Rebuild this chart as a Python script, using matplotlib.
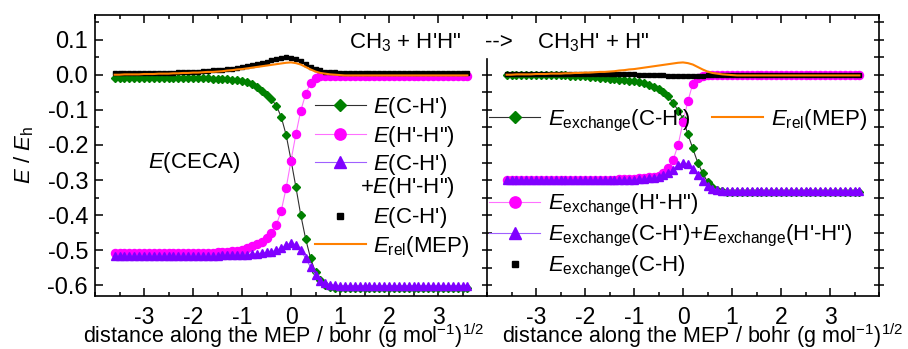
import matplotlib
matplotlib.use('Agg')
import matplotlib.pyplot as plt
from matplotlib.lines import Line2D
from matplotlib.ticker import FixedLocator, FormatStrFormatter

plt.rcParams['font.family'] = 'Liberation Sans'
plt.rcParams['mathtext.fontset'] = 'custom'
plt.rcParams['mathtext.rm'] = 'Liberation Sans'
plt.rcParams['mathtext.it'] = 'Liberation Sans:italic'
plt.rcParams['axes.unicode_minus'] = False

# distance along the MEP
x = [-3.6, -3.5, -3.4, -3.3, -3.2, -3.1, -3.0, -2.9, -2.8, -2.7,
     -2.6, -2.5, -2.4, -2.3, -2.2, -2.1, -2.0, -1.9, -1.8, -1.7,
     -1.6, -1.5, -1.4, -1.3, -1.2, -1.1, -1.0, -0.9, -0.8, -0.7,
     -0.6, -0.5, -0.4, -0.3, -0.2, -0.1, 0.0, 0.1, 0.2, 0.3,
     0.4, 0.5, 0.6, 0.7, 0.8, 0.9, 1.0, 1.1, 1.2, 1.3,
     1.4, 1.5, 1.6, 1.7, 1.8, 1.9, 2.0, 2.1, 2.2, 2.3,
     2.4, 2.5, 2.6, 2.7, 2.8, 2.9, 3.0, 3.1, 3.2, 3.3,
     3.4, 3.5, 3.6]

# left panel: E(CECA)
e_ch = [-0.009, -0.009, -0.009, -0.009, -0.009, -0.009, -0.009, -0.009, -0.009, -0.009,
        -0.009, -0.009, -0.009, -0.009, -0.009, -0.009, -0.009, -0.010, -0.010, -0.010,
        -0.011, -0.011, -0.012, -0.013, -0.014, -0.016, -0.018, -0.022, -0.027, -0.034,
        -0.045, -0.057, -0.070, -0.088, -0.120, -0.171, -0.243, -0.320, -0.400, -0.468,
        -0.523, -0.563, -0.585, -0.598, -0.604, -0.606, -0.607, -0.607, -0.607, -0.607,
        -0.607, -0.607, -0.607, -0.607, -0.607, -0.607, -0.607, -0.607, -0.607, -0.607,
        -0.607, -0.607, -0.607, -0.607, -0.607, -0.607, -0.607, -0.607, -0.607, -0.607,
        -0.607, -0.607, -0.607]
e_hh = [-0.508, -0.508, -0.508, -0.508, -0.508, -0.508, -0.508, -0.508, -0.508, -0.508,
        -0.508, -0.508, -0.508, -0.508, -0.508, -0.508, -0.508, -0.508, -0.507, -0.507,
        -0.507, -0.506, -0.506, -0.505, -0.503, -0.501, -0.498, -0.494, -0.489, -0.483,
        -0.476, -0.466, -0.451, -0.428, -0.388, -0.323, -0.245, -0.169, -0.102, -0.055,
        -0.024, -0.009, -0.005, -0.003, -0.003, -0.003, -0.003, -0.003, -0.003, -0.003,
        -0.003, -0.003, -0.003, -0.003, -0.003, -0.003, -0.003, -0.003, -0.003, -0.003,
        -0.003, -0.003, -0.003, -0.003, -0.003, -0.003, -0.003, -0.003, -0.003, -0.003,
        -0.003, -0.003, -0.003]
e_sum = [-0.515, -0.515, -0.515, -0.515, -0.515, -0.515, -0.515, -0.515, -0.515, -0.515,
         -0.515, -0.515, -0.515, -0.515, -0.515, -0.515, -0.515, -0.515, -0.515, -0.515,
         -0.515, -0.515, -0.514, -0.514, -0.514, -0.513, -0.513, -0.512, -0.511, -0.510,
         -0.508, -0.506, -0.504, -0.500, -0.494, -0.485, -0.479, -0.484, -0.500, -0.523,
         -0.548, -0.571, -0.586, -0.594, -0.598, -0.600, -0.601, -0.601, -0.601, -0.601,
         -0.601, -0.601, -0.601, -0.601, -0.601, -0.601, -0.601, -0.601, -0.601, -0.601,
         -0.601, -0.601, -0.601, -0.601, -0.601, -0.601, -0.601, -0.601, -0.601, -0.601,
         -0.601, -0.601, -0.601]
e_tot = [0.005, 0.005, 0.005, 0.005, 0.005, 0.005, 0.005, 0.005, 0.005, 0.005,
         0.005, 0.006, 0.006, 0.007, 0.007, 0.008, 0.008, 0.009, 0.010, 0.011,
         0.012, 0.013, 0.014, 0.016, 0.017, 0.019, 0.021, 0.024, 0.027, 0.030,
         0.033, 0.037, 0.042, 0.046, 0.049, 0.051, 0.049, 0.045, 0.038, 0.030,
         0.022, 0.016, 0.012, 0.009, 0.008, 0.007, 0.006, 0.006, 0.005, 0.005,
         0.004, 0.004, 0.004, 0.004, 0.004, 0.004, 0.004, 0.004, 0.004, 0.004,
         0.004, 0.004, 0.004, 0.004, 0.004, 0.004, 0.004, 0.004, 0.004, 0.004,
         0.004, 0.004, 0.004]
e_mep = [0.000, 0.000, 0.001, 0.001, 0.001, 0.001, 0.002, 0.002, 0.002, 0.003,
         0.003, 0.003, 0.004, 0.004, 0.005, 0.005, 0.006, 0.006, 0.007, 0.008,
         0.008, 0.009, 0.010, 0.012, 0.013, 0.015, 0.016, 0.018, 0.020, 0.022,
         0.024, 0.026, 0.028, 0.030, 0.032, 0.034, 0.035, 0.033, 0.029, 0.022,
         0.015, 0.009, 0.005, 0.003, 0.001, 0.000, -0.001, -0.002, -0.002, -0.002,
         -0.002, -0.002, -0.002, -0.002, -0.002, -0.002, -0.002, -0.002, -0.002, -0.002,
         -0.002, -0.002, -0.002, -0.002, -0.002, -0.002, -0.002, -0.002, -0.002, -0.002,
         -0.002, -0.002, -0.002]

# right panel: exchange parts
x_ch = [-0.001, -0.001, -0.001, -0.001, -0.001, -0.001, -0.001, -0.001, -0.001, -0.001,
        -0.001, -0.002, -0.002, -0.003, -0.003, -0.004, -0.005, -0.006, -0.007, -0.009,
        -0.010, -0.011, -0.012, -0.014, -0.015, -0.017, -0.019, -0.022, -0.025, -0.029,
        -0.035, -0.042, -0.050, -0.062, -0.080, -0.102, -0.125, -0.170, -0.210, -0.250,
        -0.280, -0.305, -0.320, -0.328, -0.332, -0.333, -0.334, -0.334, -0.334, -0.334,
        -0.334, -0.334, -0.334, -0.334, -0.334, -0.334, -0.334, -0.334, -0.334, -0.334,
        -0.334, -0.334, -0.334, -0.334, -0.334, -0.334, -0.334, -0.334, -0.334, -0.334,
        -0.334, -0.334, -0.334]
x_hh = [-0.300, -0.300, -0.300, -0.300, -0.300, -0.300, -0.300, -0.300, -0.300, -0.300,
        -0.300, -0.300, -0.300, -0.300, -0.300, -0.300, -0.300, -0.300, -0.300, -0.300,
        -0.300, -0.299, -0.299, -0.298, -0.298, -0.297, -0.296, -0.295, -0.293, -0.291,
        -0.290, -0.287, -0.281, -0.266, -0.242, -0.200, -0.135, -0.075, -0.026, -0.008,
        -0.004, -0.002, -0.001, -0.001, -0.001, -0.001, -0.001, -0.001, -0.001, -0.001,
        -0.001, -0.001, -0.001, -0.001, -0.001, -0.001, -0.001, -0.001, -0.001, -0.001,
        -0.001, -0.001, -0.001, -0.001, -0.001, -0.001, -0.001, -0.001, -0.001, -0.001,
        -0.001, -0.001, -0.001]
x_sum = [-0.301, -0.301, -0.301, -0.301, -0.301, -0.301, -0.301, -0.301, -0.301, -0.301,
         -0.301, -0.301, -0.301, -0.301, -0.301, -0.301, -0.301, -0.301, -0.301, -0.301,
         -0.301, -0.301, -0.300, -0.300, -0.300, -0.299, -0.299, -0.298, -0.297, -0.295,
         -0.293, -0.290, -0.286, -0.279, -0.270, -0.258, -0.250, -0.255, -0.268, -0.285,
         -0.302, -0.316, -0.324, -0.328, -0.330, -0.331, -0.331, -0.331, -0.331, -0.331,
         -0.331, -0.331, -0.331, -0.331, -0.331, -0.331, -0.331, -0.331, -0.331, -0.331,
         -0.331, -0.331, -0.331, -0.331, -0.331, -0.331, -0.331, -0.331, -0.331, -0.331,
         -0.331, -0.331, -0.331]
x_tot = [0.001, 0.001, 0.001, 0.001, 0.001, 0.001, 0.001, 0.001, 0.001, 0.001,
         0.001, 0.001, 0.001, 0.001, 0.001, 0.001, 0.001, 0.001, 0.001, 0.001,
         0.001, 0.001, 0.001, 0.001, 0.001, 0.001, 0.001, 0.000, 0.000, -0.001,
         -0.001, -0.002, -0.002, -0.003, -0.003, -0.004, -0.004, -0.004, -0.004, -0.003,
         -0.003, -0.002, -0.002, -0.001, -0.001, 0.000, 0.000, 0.000, 0.000, 0.000,
         0.000, 0.000, 0.000, 0.000, 0.000, 0.000, 0.000, 0.000, 0.000, 0.000,
         0.000, 0.000, 0.000, 0.000, 0.000, 0.000, 0.000, 0.000, 0.000, 0.000,
         0.000, 0.000, 0.000]

xticks = [-3, -2, -1, 0, 1, 2, 3]
xminor = [-4, -3.5, -2.5, -1.5, -0.5, 0.5, 1.5, 2.5, 3.5, 4]
yticks = [-0.6, -0.5, -0.4, -0.3, -0.2, -0.1, 0.0, 0.1]
yminor = [-0.55, -0.45, -0.35, -0.25, -0.15, -0.05, 0.05, 0.15]
xlabel = 'distance along the MEP / bohr (g mol$^{-1}$)$^{1/2}$'

green, magenta, violet, orange = '#008000', '#FF00FF', '#8000FF', '#FF8000'
FS = 16

fig = plt.figure(figsize=(9.08, 3.49), dpi=100)
axL = fig.add_axes([95 / 908, 53 / 349, 392 / 908, 281 / 349])
axR = fig.add_axes([487 / 908, 53 / 349, 392 / 908, 281 / 349])


def draw(ax, ch, hh, sm, tot, labels):
    l1, = ax.plot(x, ch, color='#303030', lw=0.8, marker='D', ms=4.3,
                  mfc=green, mec=green, label=labels[0])
    l2, = ax.plot(x, hh, color='#FF70FF', lw=0.8, marker='o', ms=5.8,
                  mfc=magenta, mec=magenta, label=labels[1])
    l3, = ax.plot(x, sm, color='#A060FF', lw=0.8, marker='^', ms=6.3,
                  mfc=violet, mec=violet, label=labels[2])
    l4, = ax.plot(x, tot, ls='none', marker='s', ms=3.0, color='black',
                  label=labels[3])
    l5, = ax.plot(x, e_mep, color=orange, lw=1.5, label='$E_\\mathrm{rel}$(MEP)')
    return l1, l2, l3, l4, l5


def style(ax, right):
    ax.set_xlim(-4, 4)
    ax.set_ylim(-0.63, 0.17)
    ax.xaxis.set_major_locator(FixedLocator(xticks))
    ax.xaxis.set_minor_locator(FixedLocator(xminor))
    ax.yaxis.set_major_locator(FixedLocator(yticks))
    ax.yaxis.set_minor_locator(FixedLocator(yminor))
    ax.yaxis.set_major_formatter(FormatStrFormatter('%.1f'))
    ax.tick_params(axis='x', which='both', direction='in', top=True,
                   labelsize=16.5, pad=7, width=1.1)
    ax.tick_params(axis='x', which='major', length=6)
    ax.tick_params(axis='x', which='minor', length=3)
    if right:
        ax.tick_params(axis='y', which='both', direction='inout', left=True,
                       right=True, labelleft=False, length=7, width=1.1)
    else:
        ax.tick_params(axis='y', which='both', direction='in', right=False,
                       labelsize=17, pad=5, width=1.1)
        ax.tick_params(axis='y', which='major', length=6)
        ax.tick_params(axis='y', which='minor', length=3)
        ax.spines['right'].set_visible(False)
    for s in ax.spines.values():
        s.set_linewidth(1.2)
    ax.set_xlabel(xlabel, fontsize=15.5)


# left panel
hL = draw(axL, e_ch, e_hh, e_sum, e_tot,
          ["$E$(C-H')", "$E$(H'-H\")", "$E$(C-H')", "$E$(C-H')"])
style(axL, False)
axL.xaxis.set_label_coords(0.48, -0.09)
axL.set_ylabel('$E$ / $E_\\mathrm{h}$', fontsize=FS)
axL.yaxis.set_label_coords(-0.15, 0.5)
blank = Line2D([], [], ls='none')
axL.legend([hL[0], hL[1], hL[2], blank, hL[3], hL[4]],
           ["$E$(C-H')", "$E$(H'-H\")", "$E$(C-H')", " ",
            "$E$(C-H')", '$E_\\mathrm{rel}$(MEP)'],
           loc='upper left', bbox_to_anchor=(0.56, 0.715), frameon=False,
           fontsize=FS, numpoints=1, handlelength=2.3, handletextpad=0.35,
           labelspacing=0.16, borderpad=0, borderaxespad=0, markerscale=1.4)
# second line of the third legend entry
axL.text(0.676, 0.385, "+$E$(H'-H\")", transform=axL.transAxes,
         fontsize=FS, va='center')
axL.text(0.135, 0.455, '$E$(CECA)', transform=axL.transAxes, fontsize=FS)

# right panel
hR = draw(axR, x_ch, x_hh, x_sum, x_tot,
          ["$E_\\mathrm{exchange}$(C-H')", "$E_\\mathrm{exchange}$(H'-H\")",
           "$E_\\mathrm{exchange}$(C-H')+$E_\\mathrm{exchange}$(H'-H\")",
           "$E_\\mathrm{exchange}$(C-H)"])
style(axR, True)
axR.xaxis.set_label_coords(0.55, -0.09)
# the divider between the panels stops below the reaction arrow
axR.spines['left'].set_bounds(-0.63, 0.045)
legA = axR.legend([hR[0], hR[4]], [hR[0].get_label(), hR[4].get_label()],
                  loc='upper left', bbox_to_anchor=(0.005, 0.672), ncol=2,
                  frameon=False, fontsize=FS, numpoints=1, handlelength=2.3,
                  handletextpad=0.35, columnspacing=1.0, borderpad=0,
                  borderaxespad=0, markerscale=1.4)
axR.add_artist(legA)
axR.legend([hR[1], hR[2], hR[3]], [h.get_label() for h in hR[1:4]],
           loc='upper left', bbox_to_anchor=(0.005, 0.37), frameon=False,
           fontsize=FS, numpoints=1, handlelength=2.3, handletextpad=0.35,
           labelspacing=0.22, borderpad=0, borderaxespad=0, markerscale=1.4)

# no left-side ticks above the divider
fig.canvas.draw()
for t in axR.yaxis.get_major_ticks():
    if t.get_loc() > 0.045:
        t.tick1line.set_visible(False)
for t in axR.yaxis.get_minor_ticks():
    if t.get_loc() > 0.045:
        t.tick1line.set_visible(False)

# reaction equation across the two panels
fig.text(349 / 908, 1 - 48 / 349, "CH$_3$ + H'H\"", fontsize=FS, va='baseline')
fig.text(485 / 908, 1 - 48 / 349, '-->', fontsize=FS, va='baseline')
fig.text(537 / 908, 1 - 48 / 349, "CH$_3$H' + H\"", fontsize=FS, va='baseline')

fig.savefig('out.png', dpi=100)
